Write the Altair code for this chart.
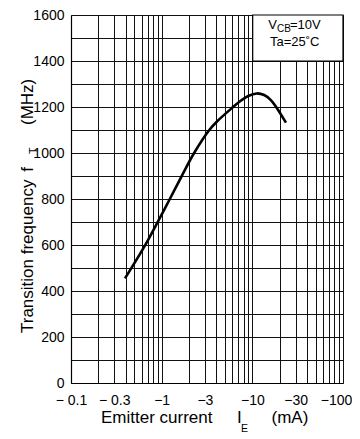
import altair as alt
import pandas as pd

FONT = "Liberation Sans"

# Curve: emitter current |I_E| (mA) vs transition frequency (MHz)
current_mA = [0.394, 0.627, 0.918, 1.23, 1.69, 2.28, 3.35, 4.05, 5.9, 7.5, 9, 11.2, 13.5, 16, 18.6, 23.5]
ft_mhz = [455, 585, 705, 800, 905, 1000, 1100, 1136, 1194, 1228, 1248, 1259, 1252, 1230, 1196, 1132]

x_grid = [0.1, 0.2, 0.3, 0.4, 0.5, 0.6, 0.7, 0.8, 0.9,
          1, 2, 3, 4, 5, 6, 7, 8, 9,
          10, 20, 30, 40, 50, 60, 70, 80, 90, 100]
x_tick_values = [0.1, 0.3, 1, 3, 10, 30, 100]
x_tick_labels = ["\u2212 0.1", "\u2212 0.3", "\u22121", "\u22123", "\u221210", "\u221230", "\u2212100"]
y_grid = list(range(0, 1700, 100))

W, H = 272, 368

df = pd.DataFrame({"I": current_mA, "fT": ft_mhz})

x_label_expr = "".join(
    f"datum.value == {v} ? '{t}' : " for v, t in zip(x_tick_values, x_tick_labels)
) + "''"

x_enc = alt.X(
    "I:Q",
    scale=alt.Scale(type="log", domain=[0.1, 100], nice=False),
    axis=alt.Axis(
        values=x_grid, labelExpr=x_label_expr, title=None, ticks=False,
        grid=True, gridColor="#111", gridOpacity=1, gridWidth=1,
        domainColor="black", domainWidth=1.2, labelFont=FONT, labelFontSize=14,
        labelColor="black", labelPadding=10, labelOverlap=False, labelFlush=False,
        labelOffset={"expr": "datum.value == 100 ? -7 : 0"},
    ),
)
y_enc = alt.Y(
    "fT:Q",
    scale=alt.Scale(domain=[0, 1600], nice=False),
    axis=alt.Axis(
        values=y_grid, labelExpr="datum.value % 200 == 0 ? datum.label : ''",
        format="d", title=None, ticks=False,
        grid=True, gridColor="#111", gridOpacity=1, gridWidth=1,
        domainColor="black", domainWidth=1.2, labelFont=FONT, labelFontSize=14,
        labelColor="black", labelPadding=7, labelOverlap=False, labelFlush=False,
    ),
)

curve = alt.Chart(df).mark_line(
    color="black", strokeWidth=2.6, interpolate="catmull-rom"
).encode(x=x_enc, y=y_enc)


def txt(text, x, y, size=16, angle=0, align="left", baseline="alphabetic"):
    return alt.Chart(alt.Data(values=[{}])).mark_text(
        text=text, font=FONT, fontSize=size, angle=angle, align=align,
        baseline=baseline, color="black",
    ).encode(x=alt.value(x), y=alt.value(y))


legend_box = alt.Chart(alt.Data(values=[{}])).mark_rect(
    fill="white", stroke="black", strokeWidth=1.2
).encode(x=alt.value(181.7), x2=alt.value(W), y=alt.value(0), y2=alt.value(46))

annotations = [
    legend_box,
    txt("V", 197.3, 14.3, size=13),
    txt("CB", 206.0, 16.7, size=10),
    txt("=10V", 219.0, 14.3, size=13),
    txt("Ta=25\u02daC", 199.0, 31.0, size=13),
    # x title
    txt("Emitter current", 30, 408, size=17),
    txt("I", 166, 408, size=17),
    txt("E", 170, 417, size=10.5),
    txt("(mA)", 200.5, 408, size=17),
    # y title (rotated)
    txt("Transition frequency", -37.7, 318, size=17, angle=270),
    txt("f", -37.7, 156.7, size=17, angle=270),
    txt("T", -34.0, 139, size=10.5, angle=270),
    txt("(MHz)", -37.7, 110, size=17, angle=270),
]

chart = alt.layer(curve, *annotations).properties(
    width=W, height=H,
    autosize=alt.AutoSizeParams(type="none"),
    padding={"left": 63, "top": 7, "right": 9, "bottom": 52},
).configure_view(stroke="black", strokeWidth=1.2).configure(background="white")

chart.save("out.html", embed_options={"renderer": "svg", "actions": False})
